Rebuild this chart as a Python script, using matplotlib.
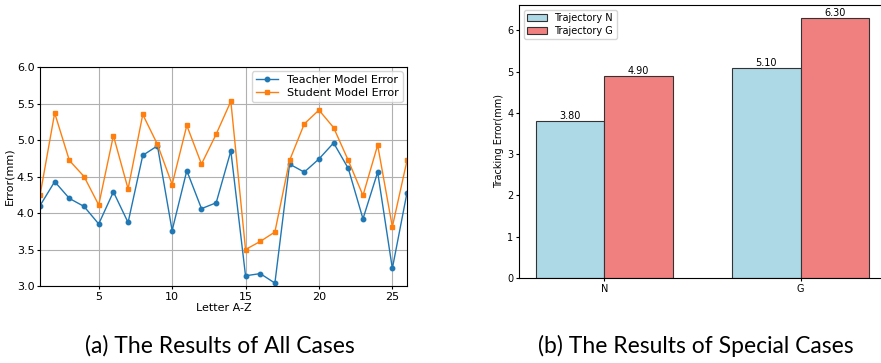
import numpy as np
import matplotlib
matplotlib.use('Agg')
import matplotlib.pyplot as plt

letters = np.arange(1, 27)
teacher_err = [4.10, 4.43, 4.20, 4.09, 3.85, 4.29, 3.87, 4.79, 4.92, 3.76,
               4.58, 4.06, 4.14, 4.85, 3.14, 3.17, 3.04, 4.67, 4.56, 4.74,
               4.96, 4.61, 3.92, 4.56, 3.24, 4.28]
student_err = [4.24, 5.37, 4.72, 4.50, 4.11, 5.06, 4.33, 5.35, 4.94, 4.39,
               5.20, 4.67, 5.08, 5.53, 3.50, 3.61, 3.74, 4.72, 5.22, 5.41,
               5.17, 4.72, 4.24, 4.93, 3.81, 4.72]

cases = ['N', 'G']
traj_n = [3.80, 5.10]
traj_g = [4.90, 6.30]

fig = plt.figure(figsize=(8.81, 3.63), dpi=100)

# (a) line chart
ax1 = fig.add_axes([0.0454, 0.2121, 0.4166, 0.6033])
ax1.plot(letters, teacher_err, marker='o', markersize=3.2, linewidth=1,
         color='#1f77b4', label='Teacher Model Error')
ax1.plot(letters, student_err, marker='s', markersize=3.2, linewidth=1,
         color='#ff7f0e', label='Student Model Error')
ax1.set_xlim(1, 26)
ax1.set_ylim(3.0, 6.0)
ax1.set_xticks([5, 10, 15, 20, 25])
ax1.set_xlabel('Letter A-Z', fontsize=8, labelpad=1)
ax1.set_ylabel('Error(mm)', fontsize=8, labelpad=2)
ax1.tick_params(labelsize=8, length=2.5, pad=1.5)
ax1.grid(True, color='#b0b0b0', linewidth=0.8)
ax1.legend(loc='upper right', fontsize=8, borderpad=0.35, labelspacing=0.25,
           handlelength=2, borderaxespad=0.4)

# (b) bar chart
ax2 = fig.add_axes([0.5891, 0.2342, 0.4166, 0.752])
x = np.arange(len(cases))
w = 0.35
b1 = ax2.bar(x - w / 2, traj_n, w, color='lightblue', edgecolor='#333333',
             linewidth=0.8, label='Trajectory N')
b2 = ax2.bar(x + w / 2, traj_g, w, color='lightcoral', edgecolor='#333333',
             linewidth=0.8, label='Trajectory G')
for bars in (b1, b2):
    for r in bars:
        ax2.text(r.get_x() + r.get_width() / 2, r.get_height(), f'{r.get_height():.2f}',
                 ha='center', va='bottom', fontsize=7)
ax2.set_xticks(x)
ax2.set_xticklabels(cases)
ax2.set_ylabel('Tracking Error(mm)', fontsize=7, labelpad=2)
ax2.tick_params(labelsize=7, length=2.5, pad=1.5)
ax2.legend(loc='upper left', fontsize=7, borderpad=0.35, labelspacing=0.25,
           handlelength=2, borderaxespad=0.5)

# captions
cap_font = ['Lato', 'DejaVu Sans']
fig.text(220 / 881, 1 - 346 / 363, '(a) The Results of All Cases', ha='center', va='center',
         fontsize=16.5, family=cap_font)
fig.text(696 / 881, 1 - 346 / 363, '(b) The Results of Special Cases', ha='center', va='center',
         fontsize=16.5, family=cap_font)

fig.savefig('out.png', dpi=100)
